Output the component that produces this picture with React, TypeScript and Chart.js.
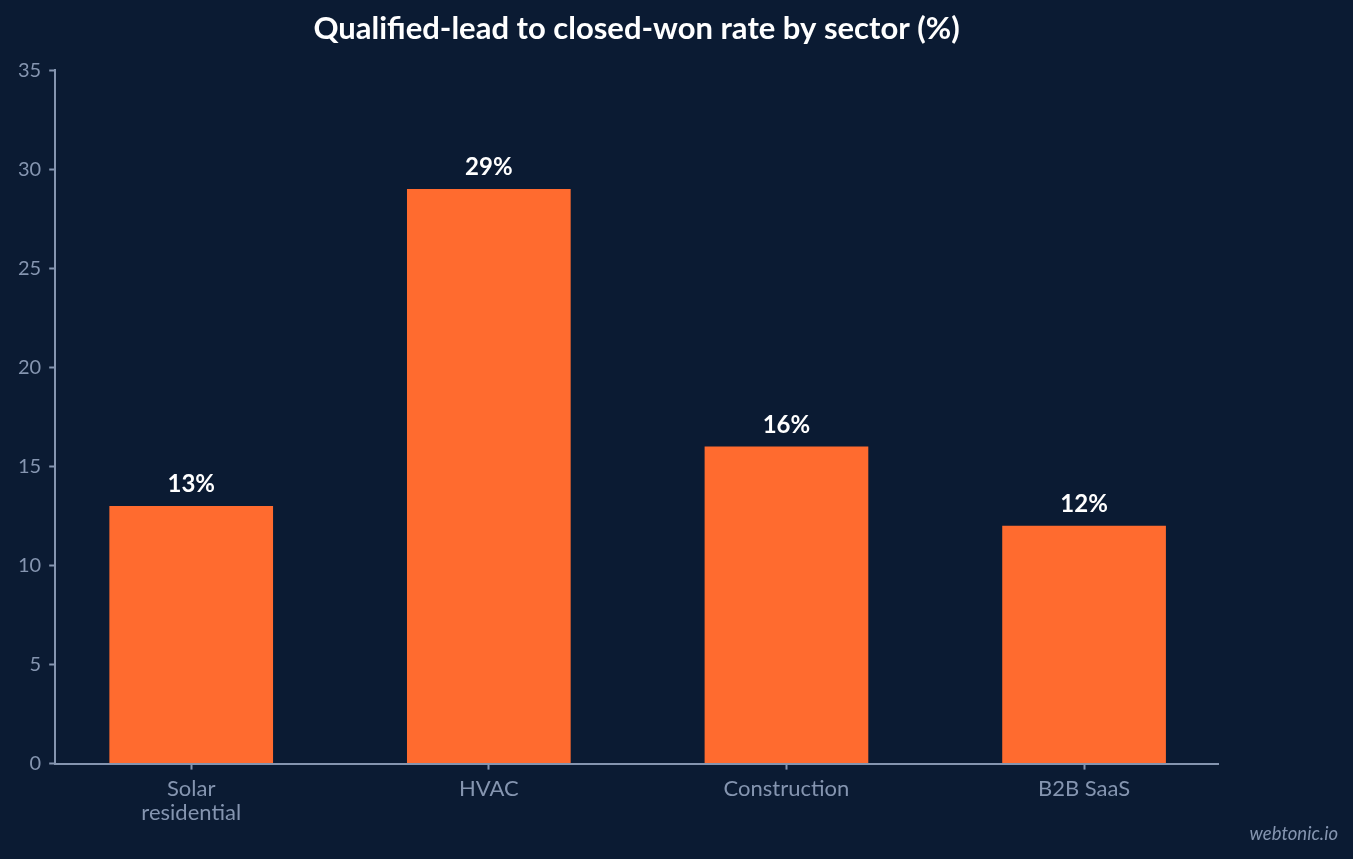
import React, { useEffect, useRef } from "react";
import { Chart, registerables } from "chart.js";

Chart.register(...registerables);

const categories: (string | string[])[] = [["Solar", "residential"], "HVAC", "Construction", "B2B SaaS"];
const closeRates: number[] = [13, 29, 16, 12];
const yTicks: number[] = [0, 5, 10, 15, 20, 25, 30, 35];

const BG = "#0b1b33";
const BAR = "#ff6b2f";
const AXIS = "#8595b0";
const FONT = "Lato, 'Open Sans', sans-serif";

const valueLabels = {
  id: "valueLabels",
  afterDatasetsDraw(chart: any) {
    const ctx = chart.ctx;
    const meta = chart.getDatasetMeta(0);
    ctx.save();
    ctx.font = `bold 24px ${FONT}`;
    ctx.fillStyle = "#ffffff";
    ctx.textAlign = "center";
    ctx.textBaseline = "alphabetic";
    meta.data.forEach((el: any, i: number) => {
      ctx.fillText(`${closeRates[i]}%`, el.x, el.y - 14);
    });
    ctx.restore();
  },
};

const watermark = {
  id: "watermark",
  afterDraw(chart: any) {
    const ctx = chart.ctx;
    ctx.save();
    ctx.font = `italic 18.5px ${FONT}`;
    ctx.fillStyle = AXIS;
    ctx.textAlign = "right";
    ctx.textBaseline = "alphabetic";
    ctx.fillText("webtonic.io", chart.width - 15, chart.height - 19);
    ctx.restore();
  },
};

export default function App() {
  const ref = useRef<HTMLCanvasElement | null>(null);
  useEffect(() => {
    if (!ref.current) return;
    const chart = new Chart(ref.current, {
      type: "bar",
      data: {
        datasets: [
          {
            data: closeRates.map((v, i) => ({ x: i, y: v })),
            backgroundColor: BAR,
            borderWidth: 0,
            categoryPercentage: 1,
            barPercentage: 0.55,
          },
        ],
      },
      options: {
        animation: false,
        responsive: true,
        maintainAspectRatio: false,
        layout: { padding: { left: 10, right: 135, top: 0, bottom: 27 } },
        plugins: {
          legend: { display: false },
          tooltip: { enabled: false },
          title: {
            display: true,
            text: "Qualified-lead to closed-won rate by sector (%)",
            color: "#ffffff",
            fullSize: false,
            font: { family: FONT, size: 31, weight: "bold" },
            padding: { top: 10, bottom: 23 },
          },
        },
        scales: {
          x: {
            type: "linear",
            min: -0.457,
            max: 3.45,
            offset: false,
            border: { display: true, color: AXIS, width: 2 },
            grid: { offset: false, drawOnChartArea: false, drawTicks: true, tickLength: 6, tickColor: AXIS, tickWidth: 2 },
            afterBuildTicks: (scale: any) => {
              scale.ticks = categories.map((_, i) => ({ value: i }));
            },
            ticks: {
              color: AXIS,
              font: { family: FONT, size: 22, lineHeight: 1.1 },
              padding: 7,
              autoSkip: false,
              maxRotation: 0,
              callback: (v: any) => categories[Math.round(Number(v))] as any,
            },
          },
          y: {
            min: 0,
            max: 35,
            border: { display: true, color: AXIS, width: 2 },
            grid: { drawOnChartArea: false, drawTicks: true, tickLength: 6, tickColor: AXIS, tickWidth: 2 },
            afterBuildTicks: (scale: any) => {
              scale.ticks = yTicks.map((v) => ({ value: v }));
            },
            ticks: {
              color: AXIS,
              font: { family: FONT, size: 20 },
              padding: 8,
            },
          },
        },
      },
      plugins: [valueLabels, watermark],
    });
    return () => chart.destroy();
  }, []);
  return (
    <div style={{ position: "fixed", left: 0, top: 0, width: "100vw", height: "100vh", background: BG }}>
      <canvas ref={ref} />
    </div>
  );
}
